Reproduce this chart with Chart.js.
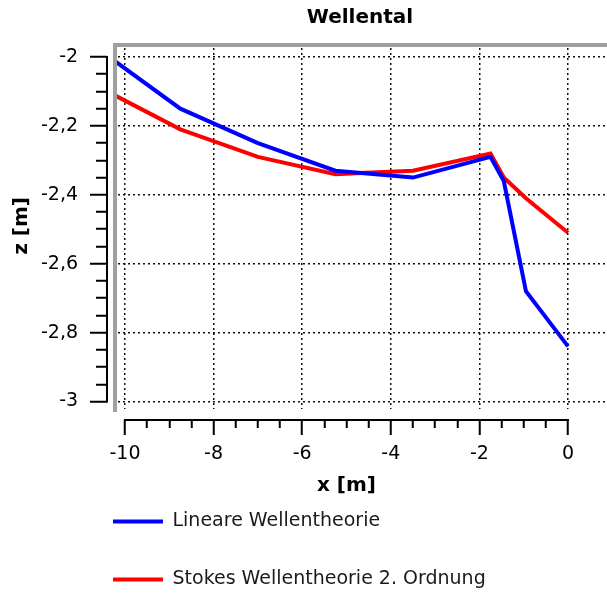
<!DOCTYPE html>
<html lang="de">
<head>
<meta charset="utf-8">
<title>Wellental</title>
<script src="https://cdn.jsdelivr.net/npm/chart.js@4.4.1/dist/chart.umd.min.js"></script>
<style>
  html, body { margin: 0; padding: 0; background: #fff; overflow: hidden; }
  #wellenChart { display: block; }
</style>
</head>
<body>
<canvas id="wellenChart" width="646" height="599"></canvas>
<script>
// Messpunkte entlang x [m]
const xWerte = [-10.25, -8.75, -7.0, -5.25, -3.5, -1.75, -1.45, -0.95, 0];
// z [m] fuer beide Theorien
const linearWerte = [-2.01, -2.15, -2.25, -2.33, -2.35, -2.29, -2.36, -2.68, -2.84];
const stokesWerte = [-2.11, -2.21, -2.29, -2.34, -2.33, -2.28, -2.35, -2.41, -2.51];
const serienNamen = ['Lineare Wellentheorie', 'Stokes Wellentheorie 2. Ordnung'];
// beschriftete Achsenwerte
const xTickWerte = [-10, -8, -6, -4, -2, 0];
const zTickWerte = [-3, -2.8, -2.6, -2.4, -2.2, -2];

const gleich = (a, b) => Math.abs(a - b) < 1e-6;
const istXMajor = v => xTickWerte.some(t => gleich(t, v));
const istZMajor = v => zTickWerte.some(t => gleich(t, v));
const imXBereich = v => v >= xTickWerte[0] - 1e-6 && v <= xTickWerte[xTickWerte.length - 1] + 1e-6;

Chart.defaults.font.family = '"DejaVu Sans", Verdana, sans-serif';
Chart.defaults.color = '#000';

// Rahmen, Achsenlinien und x-Achsentitel wie im Original
const achsenPlugin = {
    id: 'achsen',
    afterDatasetsDraw(chart) {
        const {ctx, chartArea, scales} = chart;
        const x = scales.x, y = scales.y;
        ctx.save();
        ctx.fillStyle = '#a0a0a0';
        ctx.fillRect(chartArea.left, chartArea.top, chartArea.right - chartArea.left, 4);
        ctx.fillRect(chartArea.left, chartArea.top, 4, chartArea.bottom - chartArea.top + 3);

        ctx.strokeStyle = '#000';
        ctx.lineWidth = 2;
        ctx.beginPath();
        const ax = chartArea.left - 6;
        ctx.moveTo(ax, y.getPixelForValue(zTickWerte[zTickWerte.length - 1]) - 1);
        ctx.lineTo(ax, y.getPixelForValue(zTickWerte[0]) + 1);
        const ay = chartArea.bottom + 11;
        ctx.moveTo(x.getPixelForValue(xTickWerte[0]) - 1, ay);
        ctx.lineTo(x.getPixelForValue(xTickWerte[xTickWerte.length - 1]) + 1, ay);
        ctx.stroke();

        ctx.fillStyle = '#000';
        ctx.font = 'bold 20px "DejaVu Sans", Verdana, sans-serif';
        ctx.textAlign = 'center';
        ctx.textBaseline = 'middle';
        const mitte = (x.getPixelForValue(xTickWerte[0]) + x.getPixelForValue(xTickWerte[xTickWerte.length - 1])) / 2;
        ctx.fillText('x [m]', mitte, 486);
        ctx.restore();
    }
};

const ctx = document.getElementById('wellenChart').getContext('2d');
new Chart(ctx, {
    type: 'line',
    data: {
        datasets: [{
            label: serienNamen[0],
            data: xWerte.map((xv, i) => ({x: xv, y: linearWerte[i]})),
            borderColor: '#0000ff',
            backgroundColor: '#0000ff',
            borderWidth: 4,
            pointRadius: 0,
            tension: 0
        }, {
            label: serienNamen[1],
            data: xWerte.map((xv, i) => ({x: xv, y: stokesWerte[i]})),
            borderColor: '#ff0000',
            backgroundColor: '#ff0000',
            borderWidth: 4,
            pointRadius: 0,
            tension: 0
        }]
    },
    options: {
        responsive: false,
        animation: false,
        devicePixelRatio: 1,
        layout: {
            padding: {left: 74, right: 0, top: 0, bottom: 0}
        },
        scales: {
            x: {
                type: 'linear',
                position: 'bottom',
                min: -10.27,
                max: 1.76,
                afterFit: scale => { scale.height = 64; },
                border: {display: false, dash: [2, 3]},
                grid: {
                    color: c => (c.tick && istXMajor(c.tick.value)) ? '#111' : 'rgba(0,0,0,0)',
                    lineWidth: 1.5,
                    tickLength: 26,
                    tickWidth: 2,
                    tickColor: c => (c.tick && imXBereich(c.tick.value)) ? '#000' : 'rgba(0,0,0,0)',
                    tickBorderDash: c => (c.tick && istXMajor(c.tick.value)) ? [0, 11, 15, 100] : [0, 11, 8, 100]
                },
                ticks: {
                    stepSize: 0.5,
                    includeBounds: false,
                    autoSkip: false,
                    minRotation: 0,
                    maxRotation: 0,
                    padding: 8,
                    font: {size: 19},
                    callback: v => istXMajor(v) ? String(Math.round(v)) : ''
                }
            },
            y: {
                type: 'linear',
                position: 'left',
                min: -3.0218,
                max: -1.9594,
                afterFit: scale => { scale.width = 39; },
                border: {display: false, dash: [2, 3]},
                grid: {
                    color: c => (c.tick && istZMajor(c.tick.value)) ? '#111' : 'rgba(0,0,0,0)',
                    lineWidth: 1.5,
                    tickLength: 23,
                    tickWidth: 2,
                    tickColor: '#000',
                    tickBorderDash: c => (c.tick && istZMajor(c.tick.value)) ? [17, 100] : [0, 6, 11, 100]
                },
                ticks: {
                    stepSize: 0.05,
                    includeBounds: false,
                    autoSkip: false,
                    // gespiegelt, damit die Beschriftung links neben der Achse nicht abgeschnitten wird
                    mirror: true,
                    crossAlign: 'far',
                    padding: -72,
                    font: {size: 19},
                    callback: v => istZMajor(v) ? String(Math.round(v * 10) / 10).replace('.', ',') : ''
                },
                title: {
                    display: true,
                    text: 'z [m]',
                    font: {size: 20, weight: 'bold'},
                    padding: {top: -64, bottom: 0}
                }
            }
        },
        plugins: {
            title: {
                display: true,
                text: 'Wellental',
                font: {size: 20, weight: 'bold'},
                color: '#000',
                padding: {top: 6, bottom: 13}
            },
            legend: {
                position: 'bottom',
                align: 'start',
                labels: {
                    usePointStyle: true,
                    pointStyle: 'line',
                    pointStyleWidth: 50,
                    padding: 39,
                    color: '#1a1a1a',
                    font: {size: 19}
                }
            },
            tooltip: {enabled: false}
        }
    },
    plugins: [achsenPlugin]
});
</script>
</body>
</html>
